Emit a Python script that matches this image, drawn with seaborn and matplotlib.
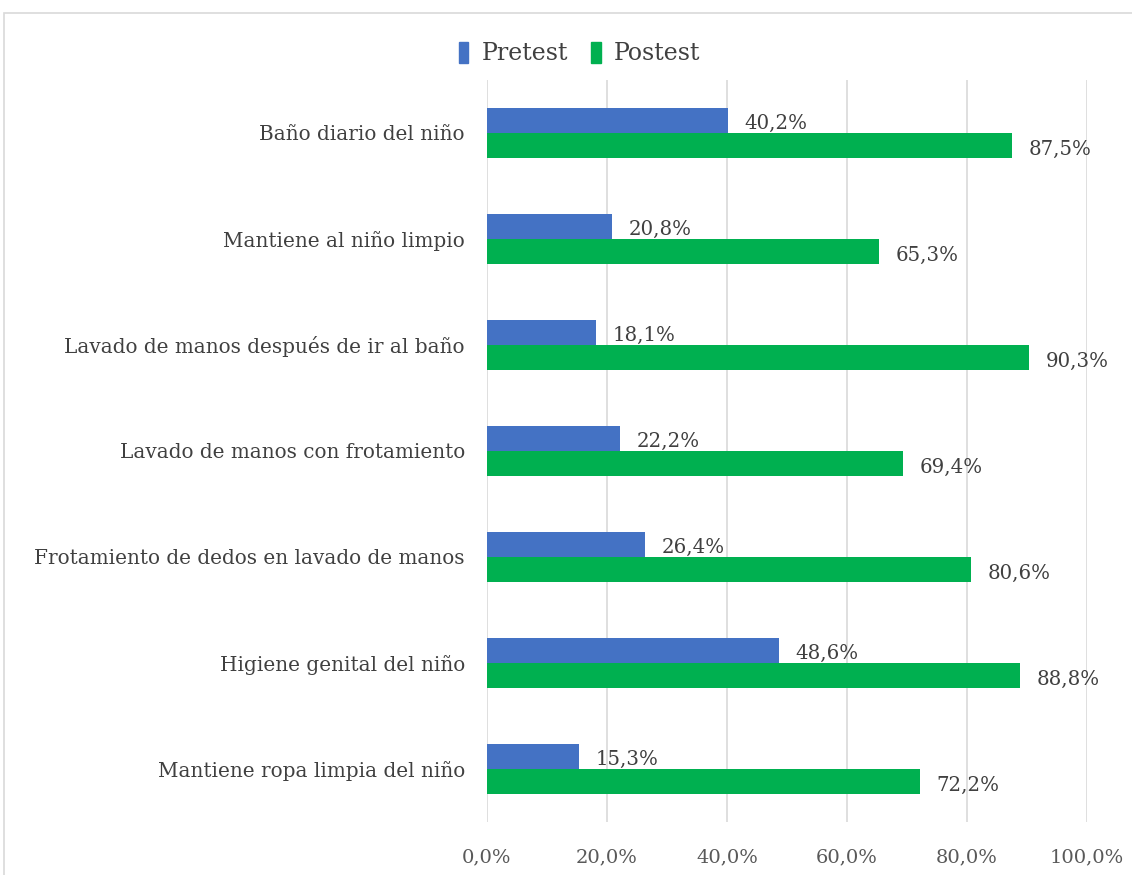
import matplotlib.pyplot as plt
import matplotlib.patches as mpatches
import pandas as pd
import seaborn as sns

sns.set_style("white")
plt.rcParams['font.family'] = ['DejaVu Serif']

# data
categories = ['Baño diario del niño', 'Mantiene al niño limpio',
              'Lavado de manos después de ir al baño', 'Lavado de manos con frotamiento',
              'Frotamiento de dedos en lavado de manos', 'Higiene genital del niño',
              'Mantiene ropa limpia del niño']
pretest = [40.2, 20.8, 18.1, 22.2, 26.4, 48.6, 15.3]
postest = [87.5, 65.3, 90.3, 69.4, 80.6, 88.8, 72.2]
xticks = [0, 20, 40, 60, 80, 100]

df = pd.DataFrame({
    'cat': categories * 2,
    'val': pretest + postest,
    'grupo': ['Pretest'] * len(categories) + ['Postest'] * len(categories),
})
colors = {'Pretest': '#4472C4', 'Postest': '#00B050'}

fig = plt.figure(figsize=(11.32, 8.75), dpi=100)
ax = fig.add_axes([0.4302, 0.0606, 0.53, 0.848])

sns.barplot(data=df, y='cat', x='val', hue='grupo', palette=colors,
            orient='h', width=0.48, gap=0, saturation=1, legend=False,
            linewidth=0, ax=ax)

# value labels sit a touch below the bar centre, like in Excel
for cont in ax.containers:
    anns = ax.bar_label(cont, labels=[f'{v:.1f}%'.replace('.', ',') for v in cont.datavalues],
                        padding=12, fontsize=14.2, color='#404040')
    for a in anns:
        a.xyann = (12, -2.5)

ax.set_xlim(0, 100)
ax.set_ylim(6.5, -0.5)
ax.set_xticks(xticks)
ax.set_xticklabels([f'{t:.1f}%'.replace('.', ',') for t in xticks], fontsize=14, color='#595959')
ax.tick_params(axis='x', length=0, pad=19)
ax.tick_params(axis='y', length=0, pad=16, labelsize=14.4, labelcolor='#404040')
ax.set_xlabel('')
ax.set_ylabel('')
ax.grid(axis='x', color='#d9d9d9', linewidth=1.2)
ax.set_axisbelow(True)
for s in ax.spines.values():
    s.set_visible(False)

handles = [mpatches.Patch(color=colors[k], label=k) for k in ['Pretest', 'Postest']]
fig.legend(handles=handles, loc='center', bbox_to_anchor=(0.512, 0.939), ncol=2, frameon=False,
           fontsize=17, labelcolor='#404040', handlelength=0.4, handleheight=1.0,
           handletextpad=0.55, columnspacing=1.0)

# outer chart border like the spreadsheet frame
fig.patches.append(mpatches.Rectangle((4 / 1132, -0.05), 1.2, 1 - 13 / 875 + 0.05,
                                      transform=fig.transFigure, fill=False,
                                      edgecolor='#d9d9d9', linewidth=1.2))

fig.savefig('out.png', dpi=100)
